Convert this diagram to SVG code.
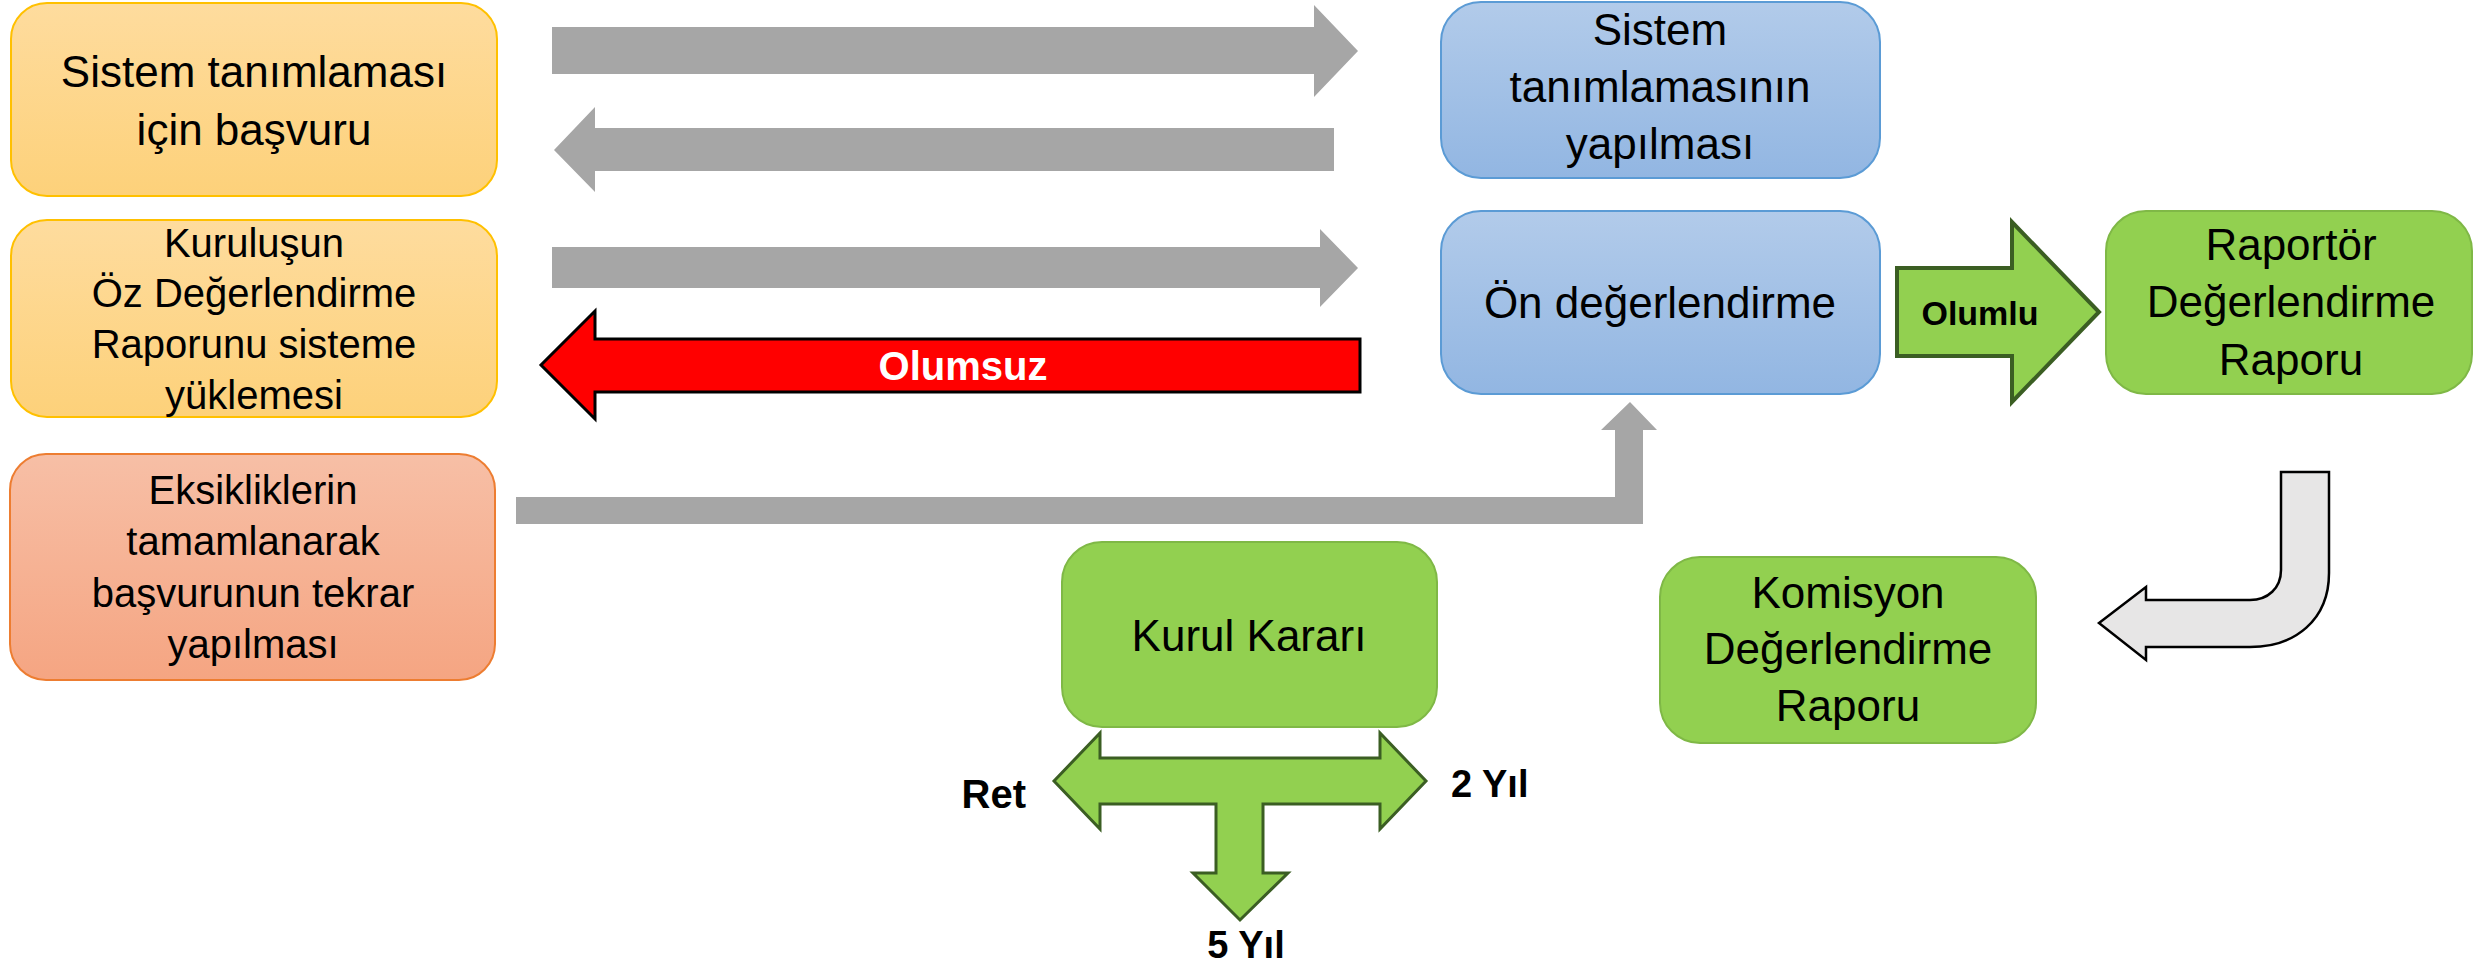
<svg xmlns="http://www.w3.org/2000/svg" width="2475" height="969" viewBox="0 0 2475 969">
<defs>
<linearGradient id="gOrange" x1="0" y1="0" x2="0" y2="1"><stop offset="0" stop-color="#FEDC9E"/><stop offset="1" stop-color="#FDD17A"/></linearGradient>
<linearGradient id="gSalmon" x1="0" y1="0" x2="0" y2="1"><stop offset="0" stop-color="#F7BFA6"/><stop offset="1" stop-color="#F5A582"/></linearGradient>
<linearGradient id="gBlue" x1="0" y1="0" x2="0" y2="1"><stop offset="0" stop-color="#B2CBEA"/><stop offset="1" stop-color="#92B6E2"/></linearGradient>
<style>
.t{font-family:"Liberation Sans",Arial,sans-serif;fill:#000;text-anchor:middle}
.big{font-size:44px}
.med{font-size:40px}
.lbl{font-family:"Liberation Sans",Arial,sans-serif;font-weight:bold;fill:#000}
.orange{fill:url(#gOrange);stroke:#FFC000;stroke-width:2}
.salmon{fill:url(#gSalmon);stroke:#ED7D31;stroke-width:2}
.blue{fill:url(#gBlue);stroke:#5B9BD5;stroke-width:2}
.green{fill:#92D050;stroke:#7FB846;stroke-width:2}
.gray{fill:#A6A6A6}
</style>
</defs>
<g id="connectors">
<polygon class="gray" points="552,27 1314,27 1314,5 1358,51 1314,97 1314,74 552,74"/>
<polygon class="gray" points="1334,128 595,128 595,107 554,150 595,192 595,171 1334,171"/>
<polygon class="gray" points="552,247 1320,247 1320,229 1358,268 1320,307 1320,288 552,288"/>
<polygon points="1360,339 595,339 595,311 541,365 595,419 595,392 1360,392" fill="#FF0000" stroke="#000" stroke-width="3"/>
<text class="lbl" x="963" y="380" font-size="40" text-anchor="middle" fill="#fff" style="fill:#fff">Olumsuz</text>
<polygon class="gray" points="516,497 1615,497 1615,430 1601,430 1630,402 1657,430 1643,430 1643,524 516,524"/>
<polygon points="1897,268 2012,268 2012,222 2099,312 2012,402 2012,356 1897,356" fill="#92D050" stroke="#3B5E23" stroke-width="4"/>
<text class="lbl" x="1980" y="325" font-size="34" text-anchor="middle">Olumlu</text>
<path d="M2281,472 L2329,472 L2329,573 C2329,620 2295,647 2250,647 L2146,647 L2146,660 L2099,623 L2146,587 L2146,600 L2250,600 C2268,600 2281,588 2281,570 Z" fill="#E7E6E6" stroke="#000" stroke-width="2.5"/>
<polygon points="1054,781 1100,733 1100,758 1380,758 1380,733 1426,781 1380,829 1380,804 1263,804 1263,873 1288,873 1240,920 1193,873 1216,873 1216,804 1100,804 1100,829" fill="#92D050" stroke="#3B5E23" stroke-width="3"/>
<text class="lbl" x="1026" y="808" font-size="40" text-anchor="end">Ret</text>
<text class="lbl" x="1451" y="797" font-size="38">2 Yıl</text>
<text class="lbl" x="1246" y="958" font-size="38" text-anchor="middle">5 Yıl</text>
</g>
<g id="node-basvuru">
<rect class="orange" x="11" y="3" width="486" height="193" rx="36"/>
<text class="t big" x="254" y="87">Sistem tanımlaması</text>
<text class="t big" x="254" y="145">için başvuru</text>
</g>
<g id="node-oz">
<rect class="orange" x="11" y="220" width="486" height="197" rx="36"/>
<text class="t med" x="254" y="257">Kuruluşun</text>
<text class="t med" x="254" y="307">Öz Değerlendirme</text>
<text class="t med" x="254" y="358">Raporunu sisteme</text>
<text class="t med" x="254" y="409">yüklemesi</text>
</g>
<g id="node-eksik">
<rect class="salmon" x="10" y="454" width="485" height="226" rx="36"/>
<text class="t med" x="253" y="504">Eksikliklerin</text>
<text class="t med" x="253" y="555">tamamlanarak</text>
<text class="t med" x="253" y="607">başvurunun tekrar</text>
<text class="t med" x="253" y="658">yapılması</text>
</g>
<g id="node-tanim">
<rect class="blue" x="1441" y="2" width="439" height="176" rx="40"/>
<text class="t big" x="1660" y="45">Sistem</text>
<text class="t big" x="1660" y="102">tanımlamasının</text>
<text class="t big" x="1660" y="159">yapılması</text>
</g>
<g id="node-on">
<rect class="blue" x="1441" y="211" width="439" height="183" rx="40"/>
<text class="t big" x="1660" y="318">Ön değerlendirme</text>
</g>
<g id="node-raportor">
<rect class="green" x="2106" y="211" width="366" height="183" rx="40"/>
<text class="t big" x="2291" y="260">Raportör</text>
<text class="t big" x="2291" y="317">Değerlendirme</text>
<text class="t big" x="2291" y="375">Raporu</text>
</g>
<g id="node-komisyon">
<rect class="green" x="1660" y="557" width="376" height="186" rx="40"/>
<text class="t big" x="1848" y="608">Komisyon</text>
<text class="t big" x="1848" y="664">Değerlendirme</text>
<text class="t big" x="1848" y="721">Raporu</text>
</g>
<g id="node-kurul">
<rect class="green" x="1062" y="542" width="375" height="185" rx="40"/>
<text class="t big" x="1249" y="651">Kurul Kararı</text>
</g>
</svg>
